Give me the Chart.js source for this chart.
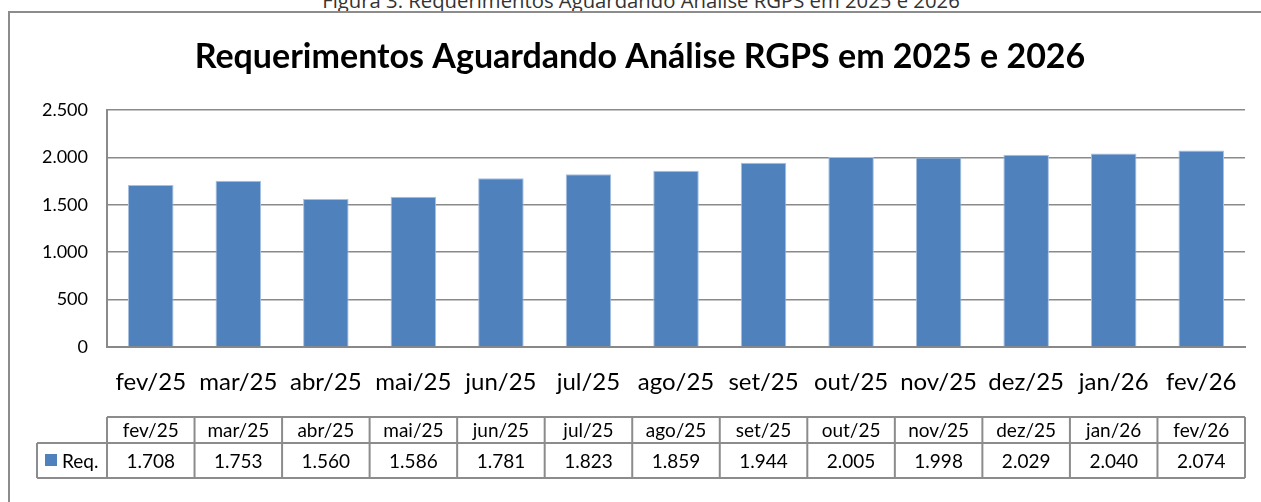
<!DOCTYPE html>
<html><head><meta charset="utf-8">
<script src="https://cdn.jsdelivr.net/npm/chart.js@4/dist/chart.umd.min.js"></script>
<style>
html,body{margin:0;padding:0;background:#fff;overflow:hidden;}
#wrap{position:relative;width:1261px;height:502px;overflow:hidden;}
#cap{position:absolute;left:0;width:1282px;top:-10px;height:20px;line-height:20px;text-align:center;font-family:"Open Sans",sans-serif;font-size:20.3px;color:#333;white-space:nowrap;}
#frame{position:absolute;left:8px;top:11px;width:1260px;height:600px;border-left:2px solid #8c8c8c;border-top:2px solid #8c8c8c;}
canvas{position:absolute;left:0;top:0;}
</style></head>
<body><div id="wrap">
<div id="cap">Figura 3: Requerimentos Aguardando Análise RGPS em 2025 e 2026</div>
<div id="frame"></div>
<canvas id="c" width="1261" height="502"></canvas>
</div>
<script>
const categories = ["fev/25","mar/25","abr/25","mai/25","jun/25","jul/25","ago/25","set/25","out/25","nov/25","dez/25","jan/26","fev/26"];
const reqValues = [1708,1753,1560,1586,1781,1823,1859,1944,2005,1998,2029,2040,2074];
const seriesName = "Req.";
const yTicks = [0,500,1000,1500,2000,2500];
const chartTitle = "Requerimentos Aguardando Análise RGPS em 2025 e 2026";

const FONT = "Lato, 'Open Sans', sans-serif";
function fmt(v){ return String(v).replace(/\B(?=(\d{3})+(?!\d))/g, "."); }

const titlePlugin = {
  id: 'centerTitle',
  afterDraw(chart){
    const ctx = chart.ctx;
    ctx.save();
    ctx.fillStyle = '#000';
    ctx.font = "bold 34px " + FONT;
    ctx.textAlign = 'center';
    ctx.textBaseline = 'middle';
    ctx.fillText(chartTitle, 640, 57);
    ctx.restore();
  }
};

const tablePlugin = {
  id: 'dataTable',
  afterDraw(chart){
    const ctx = chart.ctx, xs = chart.scales.x, area = chart.chartArea;
    const n = categories.length;
    const cw = (area.right - area.left) / n;
    const hTop = 417, hMid = 443, hBot = 478, keyLeft = 37;
    ctx.save();
    ctx.strokeStyle = '#8c8c8c';
    ctx.lineWidth = 2;
    ctx.beginPath();
    ctx.moveTo(area.left, hTop); ctx.lineTo(area.right, hTop);
    ctx.moveTo(keyLeft, hMid); ctx.lineTo(area.right, hMid);
    ctx.moveTo(keyLeft, hBot); ctx.lineTo(area.right, hBot);
    ctx.moveTo(keyLeft, hMid); ctx.lineTo(keyLeft, hBot);
    for (let i = 0; i <= n; i++) {
      const x = area.left + i * cw;
      ctx.moveTo(x, hTop); ctx.lineTo(x, hBot);
    }
    ctx.stroke();
    ctx.fillStyle = '#000';
    ctx.font = "19px " + FONT;
    ctx.textAlign = 'center';
    ctx.textBaseline = 'middle';
    categories.forEach((c, i) => {
      const cx = xs.getPixelForValue(i);
      ctx.fillText(c, cx, (hTop + hMid) / 2 + 1);
      ctx.fillText(fmt(reqValues[i]), cx, (hMid + hBot) / 2 + 1);
    });
    ctx.fillStyle = '#4F81BD';
    ctx.fillRect(45, 454, 12, 12);
    ctx.fillStyle = '#000';
    ctx.textAlign = 'left';
    ctx.fillText(seriesName, 62, (hMid + hBot) / 2 + 1);
    ctx.restore();
  }
};

new Chart(document.getElementById('c'), {
  type: 'bar',
  data: {
    labels: categories,
    datasets: [{
      label: seriesName,
      data: reqValues,
      backgroundColor: '#4F81BD',
      borderColor: '#A7C0E0',
      borderWidth: 1,
      barPercentage: 0.52,
      categoryPercentage: 1.0
    }]
  },
  options: {
    responsive: false,
    animation: false,
    layout: { padding: { left: 0, right: 16, top: 110, bottom: 0 } },
    plugins: {
      legend: { display: false },
      tooltip: { enabled: false },
      title: { display: false }
    },
    scales: {
      x: {
        grid: { display: false, drawTicks: false },
        border: { display: true, color: '#888', width: 2 },
        ticks: { color: '#000', font: { family: FONT, size: 24 }, padding: 21, maxRotation: 0, autoSkip: false },
        afterFit(s){ s.height = 155; }
      },
      y: {
        min: 0, max: 2500,
        afterBuildTicks(s){ s.ticks = yTicks.map(v => ({ value: v })); },
        grid: { color: '#8a8a8a', lineWidth: 1.5, drawTicks: false },
        border: { display: true, color: '#8a8a8a', width: 2 },
        ticks: { color: '#000', font: { family: FONT, size: 18 }, padding: 19, callback: v => fmt(v) },
        afterFit(s){ s.width = 107; }
      }
    }
  },
  plugins: [titlePlugin, tablePlugin]
});
</script>
</body></html>
